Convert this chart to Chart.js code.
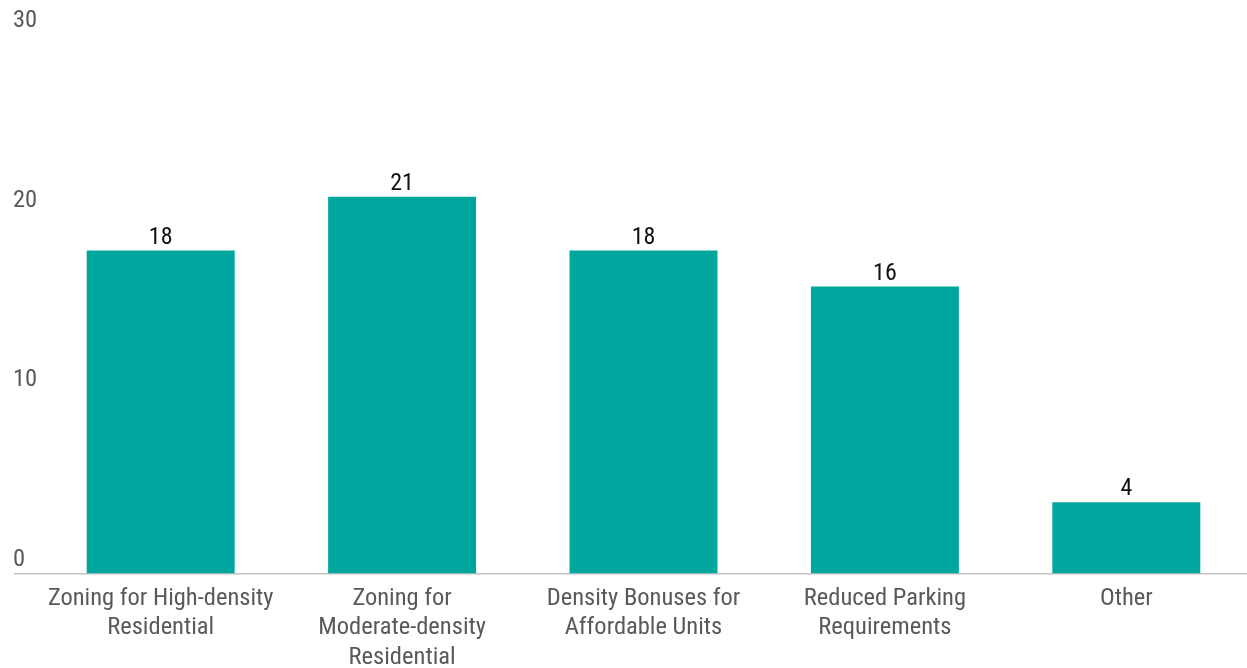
<!DOCTYPE html>
<html><head><meta charset="utf-8">
<script src="https://cdn.jsdelivr.net/npm/chart.js@4"></script>
<style>html,body{margin:0;padding:0;background:#fff}#wrap{width:1247px;height:668px}</style>
</head><body><div id="wrap"><canvas id="c" width="1247" height="668"></canvas></div>
<script>
const categories = [
  ["Zoning for High-density", "Residential"],
  ["Zoning for", "Moderate-density", "Residential"],
  ["Density Bonuses for", "Affordable Units"],
  ["Reduced Parking", "Requirements"],
  ["Other"]
];
const values = [18, 21, 18, 16, 4];
const yTicks = [0, 10, 20, 30];

const FONT = "'Roboto Condensed', 'Liberation Sans Narrow', 'DejaVu Sans Condensed', Roboto, sans-serif";

const valueLabels = {
  id: 'valueLabels',
  afterDatasetsDraw(chart) {
    const ctx = chart.ctx;
    const meta = chart.getDatasetMeta(0);
    ctx.save();
    ctx.font = "24px " + FONT;
    ctx.fillStyle = '#111';
    ctx.textAlign = 'center';
    ctx.textBaseline = 'bottom';
    meta.data.forEach((bar, i) => {
      ctx.fillText(String(values[i]), bar.x, bar.y - 1);
    });
    ctx.restore();
  }
};

new Chart(document.getElementById('c'), {
  type: 'bar',
  data: {
    labels: categories,
    datasets: [{
      data: values,
      backgroundColor: '#00A79F',
      borderWidth: 0,
      categoryPercentage: 1,
      barPercentage: 0.613
    }]
  },
  options: {
    responsive: false,
    animation: false,
    devicePixelRatio: 1,
    layout: { padding: { top: 35, right: 0, bottom: 0, left: 13 } },
    plugins: { legend: { display: false }, tooltip: { enabled: false } },
    scales: {
      x: {
        grid: { display: false },
        border: { display: false },
        ticks: {
          color: '#595959',
          font: { family: FONT, size: 24.5, lineHeight: 1.2 },
          padding: 2,
          maxRotation: 0,
          autoSkip: false
        },
        afterFit(s) { s.height = 94; }
      },
      y: {
        min: 0, max: 30,
        afterBuildTicks(s) { s.ticks = yTicks.map(v => ({ value: v })); },
        border: { display: false },
        grid: {
          color: c => c.tick && c.tick.value === 0 ? '#c4c4c4' : 'rgba(0,0,0,0)',
          lineWidth: 1.5,
          drawTicks: true,
          tickLength: 26
        },
        ticks: {
          color: '#595959',
          font: { family: FONT, size: 24.5 },
          crossAlign: 'far',
          labelOffset: -14,
          padding: 0
        },
        afterFit(s) { s.width = 27; }
      }
    }
  },
  plugins: [valueLabels]
});
</script>
</body></html>
